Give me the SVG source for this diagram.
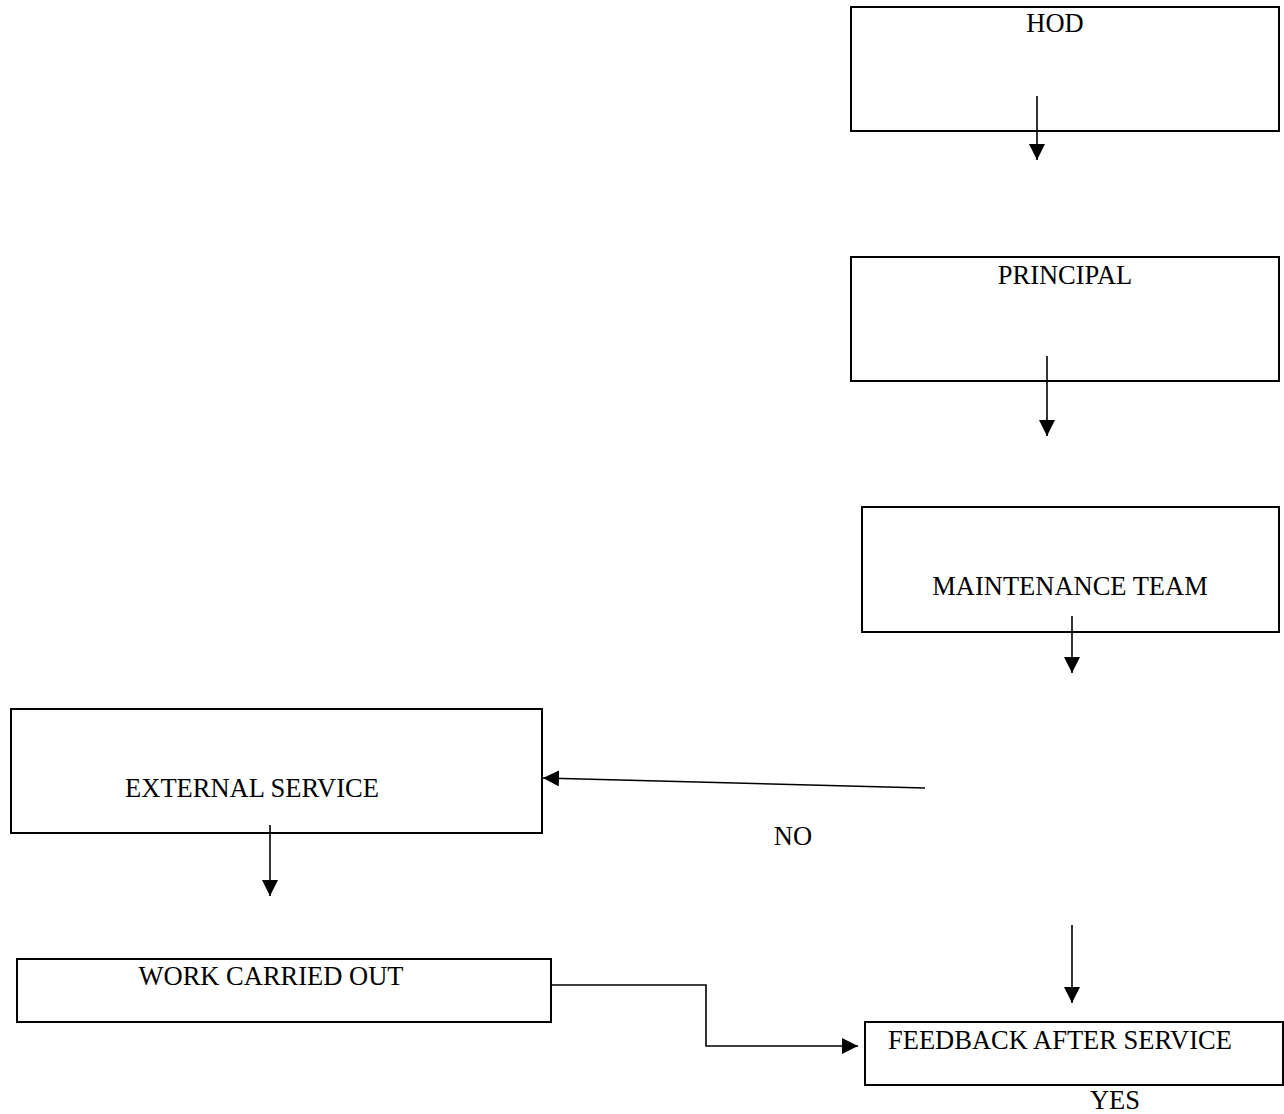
<svg xmlns="http://www.w3.org/2000/svg" width="1284" height="1114" viewBox="0 0 1284 1114">
<style>
.box{fill:#fff;stroke:#000;stroke-width:2}
.lbl{font-family:"Liberation Serif","Times New Roman",serif;font-size:26.5px;fill:#000}
.c{text-anchor:middle}
.edge{fill:none;stroke:#000;stroke-width:1.6}
</style>
<defs>
<marker id="ah" markerUnits="userSpaceOnUse" markerWidth="16" markerHeight="16" viewBox="0 0 16 16" refX="16" refY="8" orient="auto">
<path d="M0,0 L16,8 L0,16 Z" fill="#000"/>
</marker>
</defs>
<rect width="1284" height="1114" fill="#fff"/>
<g id="hod"><rect class="box" x="851" y="7" width="428" height="124"/><text class="lbl c" x="1055" y="32">HOD</text></g>
<g id="principal"><rect class="box" x="851" y="257" width="428" height="124"/><text class="lbl c" x="1065" y="284">PRINCIPAL</text></g>
<g id="maintenance"><rect class="box" x="862" y="507" width="417" height="125"/><text class="lbl c" x="1070" y="595">MAINTENANCE TEAM</text></g>
<g id="external"><rect class="box" x="11" y="709" width="531" height="124"/><text class="lbl c" x="252" y="797">EXTERNAL SERVICE</text></g>
<g id="work"><rect class="box" x="17" y="959" width="534" height="63"/><text class="lbl c" x="271" y="985">WORK CARRIED OUT</text></g>
<g id="feedback"><rect class="box" x="865" y="1022" width="418" height="63"/><text class="lbl" x="888" y="1049">FEEDBACK AFTER SERVICE</text></g>
<g id="labels"><text class="lbl c" x="793" y="845">NO</text><text class="lbl c" x="1115" y="1109">YES</text></g>
<g id="connectors">
<path class="edge" d="M1037,96 L1037,160" marker-end="url(#ah)"/>
<path class="edge" d="M1047,356 L1047,436" marker-end="url(#ah)"/>
<path class="edge" d="M1072,616 L1072,673" marker-end="url(#ah)"/>
<path class="edge" d="M925,788 L543,778" marker-end="url(#ah)"/>
<path class="edge" d="M270,825 L270,896" marker-end="url(#ah)"/>
<path class="edge" d="M1072,925 L1072,1003" marker-end="url(#ah)"/>
<path class="edge" d="M551,985 L706,985 L706,1046 L858,1046" marker-end="url(#ah)"/>
</g>
</svg>
